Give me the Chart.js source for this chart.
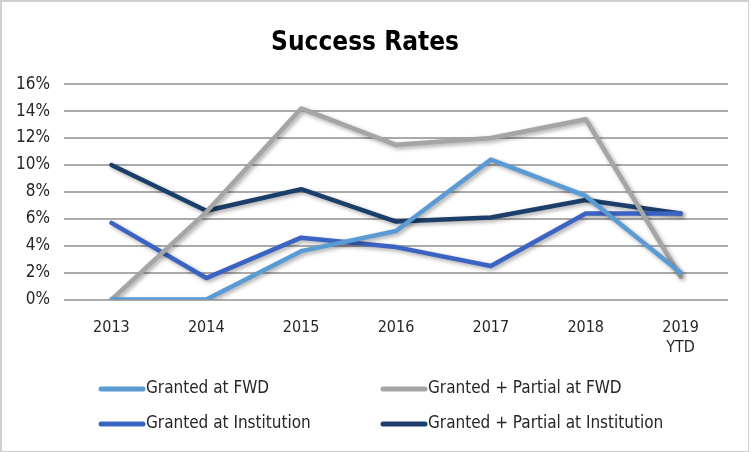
<!DOCTYPE html>
<html>
<head>
<meta charset="utf-8">
<script src="https://cdn.jsdelivr.net/npm/chart.js@4.4.1/dist/chart.umd.min.js"></script>
<style>
  html, body { margin: 0; padding: 0; background: #fff; }
  #wrap { position: relative; width: 746px; height: 449px; border: 1px solid #cfcfcf; border-left-width: 2px; border-top-width: 2px; }
</style>
</head>
<body>
<div id="wrap"><canvas id="myChart"></canvas></div>
<script>
const years = ['2013', '2014', '2015', '2016', '2017', '2018', ['2019', 'YTD']]

// success rates, in %
const grantedFwd = [0, 0, 3.6, 5.1, 10.4, 7.7, 2.0]
const partialFwd = [0, 6.5, 14.2, 11.5, 12.0, 13.4, 1.7]
const grantedInst = [5.7, 1.6, 4.6, 3.9, 2.5, 6.4, 6.4]
const partialInst = [10.0, 6.6, 8.2, 5.8, 6.1, 7.4, 6.4]

const seriesNames = ['Granted at FWD', 'Granted + Partial at FWD', 'Granted at Institution', 'Granted + Partial at Institution']
const seriesColors = ['#5b9bd5', '#a5a5a5', '#3b63c3', '#1c3e6a']

const FONT = "'DejaVu Sans Condensed', 'Liberation Sans Narrow', Roboto, sans-serif"

function makeSet(i, values) {
  return {
    label: seriesNames[i],
    data: values.map(v => v / 100),
    borderColor: seriesColors[i],
    backgroundColor: seriesColors[i],
    borderWidth: 4.5,
    pointRadius: 0,
    tension: 0,
    borderCapStyle: 'round',
    borderJoinStyle: 'round'
  }
}

// soft drop shadow under every line, like the office chart
const shadowPlugin = {
  id: 'shadow',
  beforeDatasetDraw(chart) {
    const ctx = chart.ctx
    ctx.save()
    ctx.shadowColor = 'rgba(0,0,0,0.35)'
    ctx.shadowBlur = 4
    ctx.shadowOffsetX = 2
    ctx.shadowOffsetY = 2
  },
  afterDatasetDraw(chart) {
    chart.ctx.restore()
  }
}

// two column legend at the bottom
const gridLegend = {
  id: 'gridLegend',
  afterDraw(chart) {
    const ctx = chart.ctx
    const cols = [96, 378]
    const rows = [387, 422]
    ctx.save()
    ctx.font = '17px ' + FONT
    ctx.textBaseline = 'middle'
    chart.data.datasets.forEach((ds, i) => {
      const x = cols[i % 2]
      const y = rows[Math.floor(i / 2)]
      ctx.strokeStyle = ds.borderColor
      ctx.lineWidth = 5
      ctx.lineCap = 'round'
      ctx.beginPath()
      ctx.moveTo(x + 3, y)
      ctx.lineTo(x + 45, y)
      ctx.stroke()
      ctx.fillStyle = '#262626'
      ctx.fillText(ds.label, x + 48, y)
    })
    ctx.restore()
  }
}

const config = {
  type: 'line',
  data: {
    labels: years,
    datasets: [
      makeSet(0, grantedFwd),
      makeSet(1, partialFwd),
      makeSet(2, grantedInst),
      makeSet(3, partialInst)
    ]
  },
  options: {
    responsive: true,
    maintainAspectRatio: false,
    animation: false,
    layout: { padding: { left: 0, right: 20, top: 14, bottom: 83 } },
    plugins: {
      legend: { display: false },
      tooltip: { enabled: false },
      title: {
        display: true,
        text: 'Success Rates',
        color: '#000',
        font: { family: FONT, size: 26, weight: 'bold' },
        padding: { top: 12, bottom: 25 }
      }
    },
    scales: {
      x: {
        offset: true,
        grid: { display: false },
        border: { display: false },
        ticks: {
          color: '#262626',
          font: { family: FONT, size: 16 },
          padding: 11,
          maxRotation: 0
        }
      },
      y: {
        min: 0,
        max: 0.16,
        border: { display: false },
        grid: { color: '#ababab', lineWidth: 2, drawTicks: false },
        ticks: {
          stepSize: 0.02,
          color: '#262626',
          font: { family: FONT, size: 17 },
          padding: 14,
          callback: v => Math.round(v * 100) + '%'
        }
      }
    }
  },
  plugins: [shadowPlugin, gridLegend]
}

const myChart = new Chart(document.getElementById('myChart'), config)
</script>
</body>
</html>
